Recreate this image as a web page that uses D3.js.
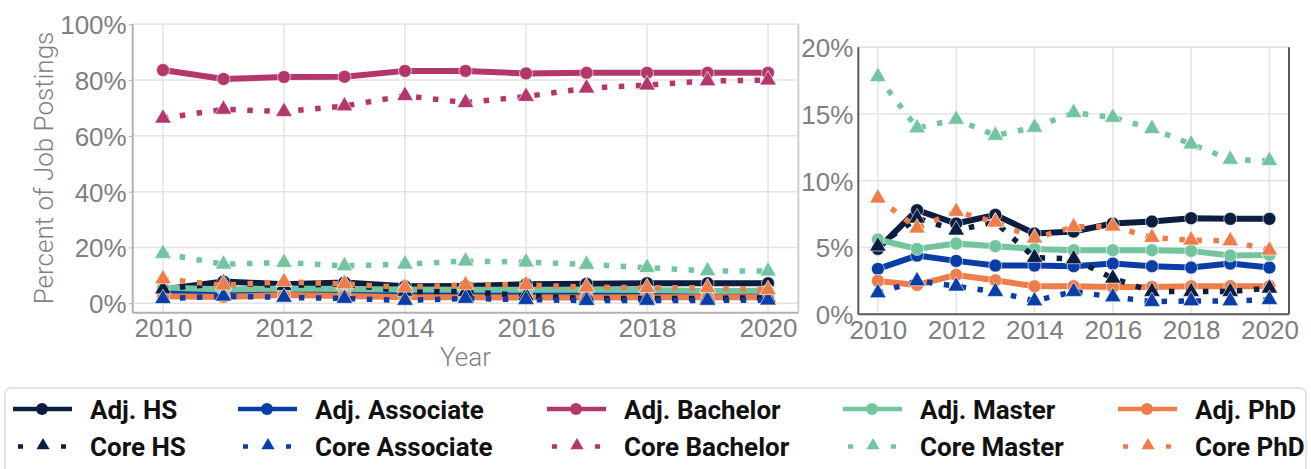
<!DOCTYPE html>
<html lang="en">
<head>
<meta charset="utf-8">
<script src="https://d3js.org/d3.v7.min.js"></script>
<style>
  body { margin: 0; background: #fff; }
  svg { display: block; font-family: Roboto, "Noto Sans", sans-serif; }
  .tick text { font-size: 26px; font-weight: 300; fill: #808080; }
  .axis path { display: none; }
  .axis line { stroke: #b0b0b0; }
  .lab { font-size: 26px; font-weight: 300; fill: #808080; }
  .leg text { font-size: 26px; font-weight: 700; fill: #111; }
</style>
</head>
<body>
<svg width="1311" height="469"></svg>
<script>
// data (percent of job postings)
var years = [2010, 2011, 2012, 2013, 2014, 2015, 2016, 2017, 2018, 2019, 2020];

var adjHS        = [4.9, 7.8, 6.8, 7.45, 6.05, 6.2, 6.8, 6.95, 7.2, 7.15, 7.15];
var coreHS       = [5.1, 7.2, 6.3, 6.9, 4.25, 4.15, 2.7, 1.7, 1.7, 1.7, 1.95];
var adjAssoc     = [3.4, 4.4, 4.0, 3.65, 3.65, 3.6, 3.8, 3.6, 3.5, 3.8, 3.5];
var coreAssoc    = [1.6, 2.5, 2.1, 1.7, 1.0, 1.7, 1.3, 0.95, 1.0, 1.0, 1.1];
var adjBachelor  = [83.6, 80.4, 81.1, 81.2, 83.3, 83.3, 82.4, 82.6, 82.6, 82.6, 82.6];
var coreBachelor = [66.3, 69.5, 68.7, 70.7, 74.4, 71.9, 74.1, 77.1, 78.2, 79.7, 80.0];
var adjMaster    = [5.6, 4.9, 5.3, 5.1, 4.9, 4.8, 4.8, 4.8, 4.75, 4.4, 4.45];
var coreMaster   = [17.8, 13.95, 14.6, 13.4, 14.0, 15.1, 14.75, 13.9, 12.75, 11.6, 11.5];
var adjPhD       = [2.5, 2.2, 2.95, 2.55, 2.1, 2.1, 2.05, 2.05, 2.1, 2.1, 2.1];
var corePhD      = [8.7, 6.45, 7.7, 6.9, 5.7, 6.55, 6.6, 5.75, 5.55, 5.5, 4.8];

var leftTicks = [0, 20, 40, 60, 80, 100];
var rightTicks = [0, 5, 10, 15, 20];
var yearTicks = [2010, 2012, 2014, 2016, 2018, 2020];

// series list: adjusted ones first, core ones drawn on top
var series = [
  { name: "Adj. HS", values: adjHS, color: "#0b1e40", core: false, col: 0 },
  { name: "Adj. Associate", values: adjAssoc, color: "#0a3ea6", core: false, col: 1 },
  { name: "Adj. Bachelor", values: adjBachelor, color: "#b3376b", core: false, col: 2 },
  { name: "Adj. Master", values: adjMaster, color: "#72c59f", core: false, col: 3 },
  { name: "Adj. PhD", values: adjPhD, color: "#ef7d4a", core: false, col: 4 },
  { name: "Core HS", values: coreHS, color: "#0b1e40", core: true, col: 0 },
  { name: "Core Associate", values: coreAssoc, color: "#0a3ea6", core: true, col: 1 },
  { name: "Core Bachelor", values: coreBachelor, color: "#b3376b", core: true, col: 2 },
  { name: "Core Master", values: coreMaster, color: "#72c59f", core: true, col: 3 },
  { name: "Core PhD", values: corePhD, color: "#ef7d4a", core: true, col: 4 }
];

var svg = d3.select("svg");
svg.append("rect").attr("width", 1311).attr("height", 469).attr("fill", "#fff");

var tri = d3.symbol().type(d3.symbolTriangle).size(120);

function panel(opt) {
  var x = d3.scaleLinear().domain([2009.5, 2020.5]).range([opt.x0, opt.x1]);
  var y = d3.scaleLinear().domain(opt.yDomain).range([opt.y1, opt.y0]);
  var g = svg.append("g");

  // grid
  g.selectAll(".gy").data(opt.yTicks).enter().append("line")
    .attr("x1", opt.x0).attr("x2", opt.x1)
    .attr("y1", function (d) { return y(d); }).attr("y2", function (d) { return y(d); })
    .attr("stroke", "#e4e4e4").attr("stroke-width", 1.5);
  g.selectAll(".gx").data(yearTicks).enter().append("line")
    .attr("x1", function (d) { return x(d); }).attr("x2", function (d) { return x(d); })
    .attr("y1", opt.y0).attr("y2", opt.y1)
    .attr("stroke", "#e4e4e4").attr("stroke-width", 1.5);

  // frame
  g.append("line").attr("x1", opt.x0).attr("x2", opt.x1).attr("y1", opt.y0).attr("y2", opt.y0)
    .attr("stroke", opt.topColor).attr("stroke-width", 1.5);
  g.append("line").attr("x1", opt.x1).attr("x2", opt.x1).attr("y1", opt.y0).attr("y2", opt.y1)
    .attr("stroke", opt.rightColor).attr("stroke-width", 2);
  g.append("line").attr("x1", opt.x0).attr("x2", opt.x0).attr("y1", opt.y0).attr("y2", opt.y1)
    .attr("stroke", opt.spineColor).attr("stroke-width", 2);
  g.append("line").attr("x1", opt.x0).attr("x2", opt.x1).attr("y1", opt.y1).attr("y2", opt.y1)
    .attr("stroke", opt.spineColor).attr("stroke-width", 2);

  // axes
  g.append("g").attr("class", "axis")
    .attr("transform", "translate(" + opt.x0 + ",0)")
    .call(d3.axisLeft(y).tickValues(opt.yTicks).tickSize(opt.tick).tickPadding(opt.pad)
      .tickFormat(function (d) { return d + "%"; }))
    .selectAll("text").attr("dy", "0.36em");
  g.append("g").attr("class", "axis")
    .attr("transform", "translate(0," + opt.y1 + ")")
    .call(d3.axisBottom(x).tickValues(yearTicks).tickSize(0).tickPadding(opt.xpad)
      .tickFormat(d3.format("d")));

  var clipId = "clip" + opt.id;
  svg.append("clipPath").attr("id", clipId).append("rect")
    .attr("x", opt.x0).attr("y", opt.y0 - 10)
    .attr("width", opt.x1 - opt.x0).attr("height", opt.y1 - opt.y0 + 10);
  var plot = g.append("g").attr("clip-path", "url(#" + clipId + ")");

  var line = d3.line()
    .x(function (d, i) { return x(years[i]); })
    .y(function (d) { return y(d); });

  series.forEach(function (s) {
    var sg = plot.append("g");
    sg.append("path").datum(s.values)
      .attr("d", line)
      .attr("fill", "none")
      .attr("stroke", s.color)
      .attr("stroke-width", s.core ? 5.5 : 6)
      .attr("stroke-linejoin", "round")
      .attr("stroke-dasharray", s.core ? "5.5,11.5" : null);
    if (s.core) {
      sg.selectAll("path.m").data(s.values).enter().append("path")
        .attr("class", "m")
        .attr("d", tri)
        .attr("transform", function (d, i) { return "translate(" + x(years[i]) + "," + y(d) + ")"; })
        .attr("fill", s.color).attr("stroke", "#fff").attr("stroke-opacity", 0.6).attr("stroke-width", 1);
    } else {
      sg.selectAll("circle").data(s.values).enter().append("circle")
        .attr("cx", function (d, i) { return x(years[i]); })
        .attr("cy", function (d) { return y(d); })
        .attr("r", 6.5)
        .attr("fill", s.color).attr("stroke", "#fff").attr("stroke-opacity", 0.6).attr("stroke-width", 1);
    }
  });
  return { x: x, y: y };
}

panel({ id: "L", x0: 132.7, x1: 798.3, y0: 24.3, y1: 312.7, yDomain: [-3.4, 100],
  yTicks: leftTicks, tick: 4, pad: 2, xpad: 6,
  spineColor: "#b2b2b2", rightColor: "#cdcdcd", topColor: "#e8e8e8" });

panel({ id: "R", x0: 858.3, x1: 1289, y0: 47.3, y1: 314.3, yDomain: [0, 20],
  yTicks: rightTicks, tick: 0, pad: 5, xpad: 6,
  spineColor: "#5a5a5a", rightColor: "#5a5a5a", topColor: "#e4e4e4" });

// axis titles
svg.append("text").attr("class", "lab")
  .attr("x", 465.5).attr("y", 366).attr("text-anchor", "middle").text("Year");
svg.append("text").attr("class", "lab")
  .attr("transform", "translate(53,168) rotate(-90)")
  .attr("text-anchor", "middle").text("Percent of Job Postings");

// legend
var legX = [13, 238, 547, 843, 1118];
var rowY = [409, 446.5];
var leg = svg.append("g").attr("class", "leg");
leg.append("rect").attr("x", 5).attr("y", 388).attr("width", 1301).attr("height", 100)
  .attr("rx", 6).attr("fill", "#fff").attr("stroke", "#dcdcdc").attr("stroke-width", 1.5);

series.forEach(function (s) {
  var lx = legX[s.col], ly = rowY[s.core ? 1 : 0];
  var it = leg.append("g").attr("transform", "translate(" + lx + "," + ly + ")");
  it.append("line").attr("x1", 0).attr("x2", 59).attr("y1", 0).attr("y2", 0)
    .attr("stroke", s.color).attr("stroke-width", 4.5)
    .attr("stroke-dasharray", s.core ? "0,5,5,11.5" : null);
  if (s.core) {
    it.append("path").attr("d", d3.symbol().type(d3.symbolTriangle).size(75))
      .attr("transform", "translate(30,-1)").attr("fill", s.color);
  } else {
    it.append("circle").attr("cx", 29).attr("cy", 0).attr("r", 6).attr("fill", s.color);
  }
  it.append("text").attr("x", 77).attr("y", 9.5).text(s.name);
});
</script>
</body>
</html>
